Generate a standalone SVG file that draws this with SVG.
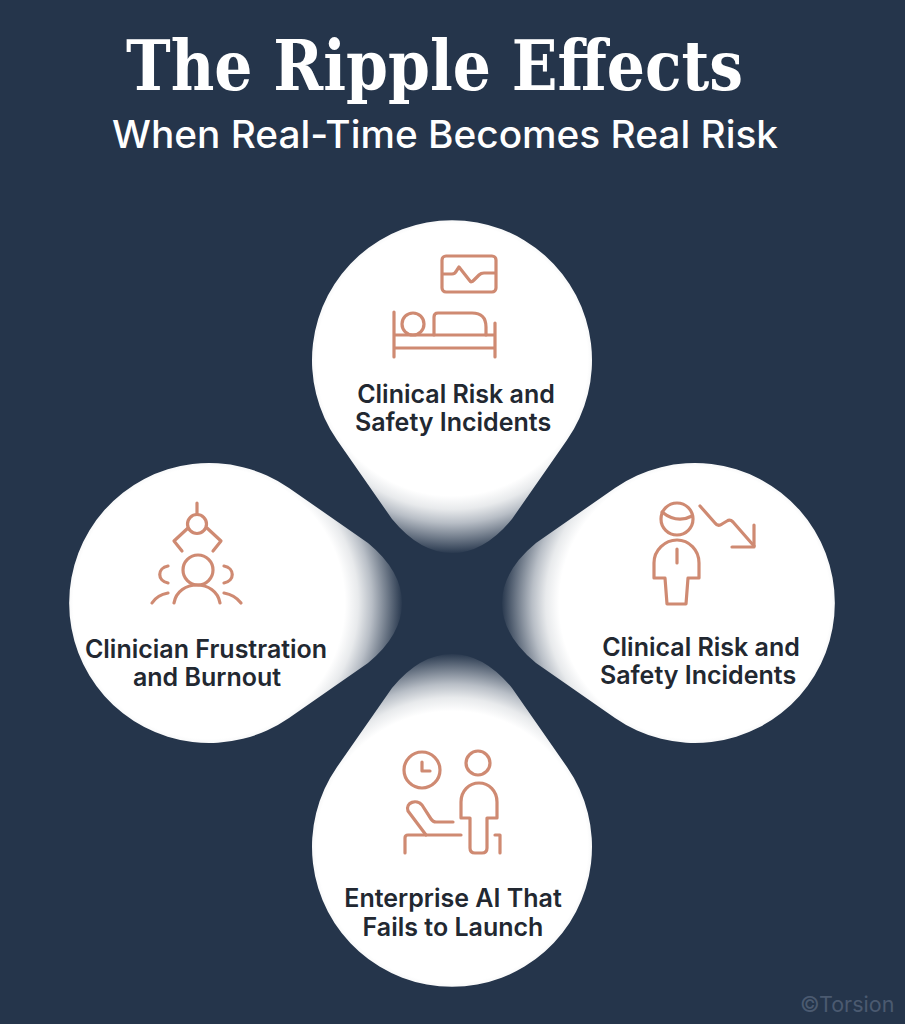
<svg xmlns="http://www.w3.org/2000/svg" width="905" height="1024" viewBox="0 0 905 1024">
<style>
.title{font-family:"DejaVu Serif","Liberation Serif",serif;font-weight:700;font-size:69px;fill:#fff}
.sub{font-family:Inter,"Liberation Sans",sans-serif;font-weight:450;font-size:37.5px;fill:#fff}
.lab{font-family:Inter,"Liberation Sans",sans-serif;font-weight:600;font-size:25px;fill:#222831;text-anchor:middle}
.ic{fill:none;stroke:#cf8a72;stroke-width:3.2;stroke-linecap:round;stroke-linejoin:round}
.wm{font-family:Inter,"Liberation Sans",sans-serif;font-size:21.5px;fill:#4b5a70}
</style>
<defs>
<radialGradient id="g" gradientUnits="userSpaceOnUse" cx="0" cy="0" r="194">
<stop offset="0.70" stop-color="#fff"/>
<stop offset="0.77" stop-color="#e8eaec"/>
<stop offset="0.84" stop-color="#b8bec6"/>
<stop offset="0.92" stop-color="#6f7a89"/>
<stop offset="1" stop-color="#25354b"/>
</radialGradient>
<path id="drop" d="M-115 80L-60 159Q-32 193 0 193Q32 193 60 159L115 80A140 140 0 1 0 -115 80Z"/>
</defs>
<rect width="905" height="1024" fill="#25354b"/>
<text class="title" x="126" y="90" textLength="617" lengthAdjust="spacingAndGlyphs">The Ripple Effects</text>
<text class="sub" x="112" y="148" textLength="666" lengthAdjust="spacingAndGlyphs">When Real-Time Becomes Real Risk</text>

<g id="node-top">
<use href="#drop" transform="translate(452 360)" fill="url(#g)"/>
<g class="ic">
<rect x="442" y="256" width="54" height="36" rx="4"/>
<path d="M443 274H452Q455 274 457 270L459 267L470 281Q471 283 474 280L479 275Q481 273 484 273H495"/>
<path d="M394 312V357M495 323V357M394 335H495M394 348H495"/>
<circle cx="413" cy="324" r="11"/>
<path d="M434 335V317Q434 313 438 313H472Q486 313 486 327V335"/>
</g>
<text class="lab" x="456" y="403">Clinical Risk and</text>
<text class="lab" x="453" y="431">Safety Incidents</text>
</g>

<g id="node-right">
<use href="#drop" transform="translate(695 603) rotate(90)" fill="url(#g)"/>
<g class="ic">
<circle cx="677" cy="519" r="16"/>
<path d="M662 512Q677 524 692 516"/>
<path d="M654 578V563C654 550 665 540 677 540C689 540 699 550 699 563V578H688L686 604H667L665 578Z"/>
<path d="M677 549V563"/>
<path d="M700 506L715 523Q718 527 722 524L727 521Q730 519 733 522L754 546"/>
<path d="M754 525V547H732"/>
</g>
<text class="lab" x="701" y="656">Clinical Risk and</text>
<text class="lab" x="698" y="684">Safety Incidents</text>
</g>

<g id="node-bottom">
<use href="#drop" transform="translate(452 847) rotate(180)" fill="url(#g)"/>
<g class="ic">
<circle cx="422" cy="770" r="18"/>
<path d="M422 762V771H430"/>
<circle cx="478" cy="763" r="12"/>
<path d="M461 818V802C461 791 469 783 479 783C489 783 497 791 497 802V818H487V848Q487 853 482 853H475Q470 853 470 848V818Z"/>
<path d="M453 822H436Q433 822 431 819L422 805C417 799 405 802 408 811L426 835"/>
<path d="M461 835H408Q405 835 405 838V853M495 835H500V853"/>
</g>
<text class="lab" x="453" y="907">Enterprise AI That</text>
<text class="lab" x="453" y="936">Fails to Launch</text>
</g>

<g id="node-left">
<use href="#drop" transform="translate(209 603) rotate(-90)" fill="url(#g)"/>
<g class="ic">
<path d="M197 503V514"/>
<circle cx="197" cy="524" r="9.5"/>
<path d="M188 528L174 541L182 551M207 528L221 541L213 551"/>
<circle cx="198" cy="570" r="15"/>
<path d="M174 603C178 579 216 579 220 603"/>
<path d="M168 566C157 568 157 581 168 583M224 566C235 568 235 581 224 583"/>
<path d="M152 603Q157 595 168 593M224 593Q235 595 241 603"/>
</g>
<text class="lab" x="206" y="658">Clinician Frustration</text>
<text class="lab" x="207" y="686">and Burnout</text>
</g>

<text class="wm" x="800" y="1012">©Torsion</text>
</svg>
